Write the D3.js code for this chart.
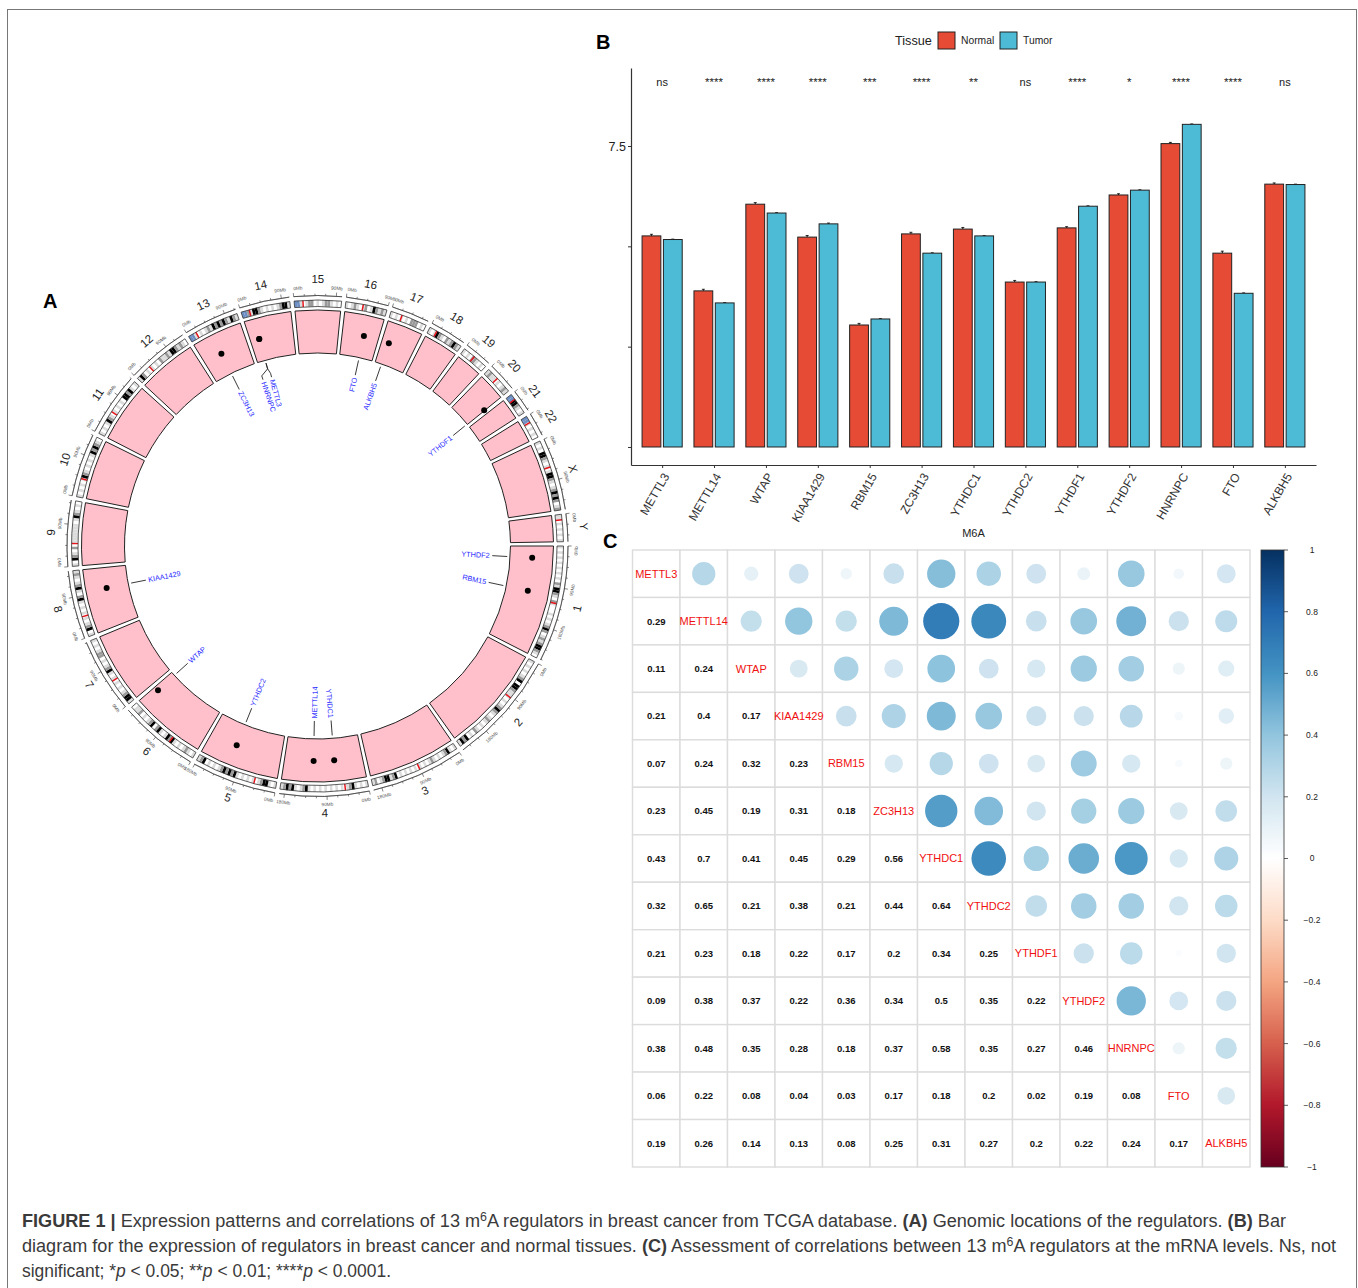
<!DOCTYPE html>
<html><head><meta charset="utf-8">
<script src="https://cdn.jsdelivr.net/npm/d3@7/dist/d3.min.js"></script>
<style>html,body{margin:0;padding:0;background:#fff}svg{display:block}text{font-family:"Liberation Sans",Arial,sans-serif}</style>
</head><body><svg id="fig" width="1358" height="1288"></svg>
<script>
// ---------- Panel A data (Mb) ----------
const chromNames = ["1","2","3","4","5","6","7","8","9","10","11","12","13","14","15","16","17","18","19","20","21","22","X","Y"];
const chromLengths = [249,243,198,191,181,171,159,146,141,135,135,133,115,107,102,90,81,78,59,63,48,51,155,59];
const centromeres = [125,93,91,50,48,61,60,45,49,40,54,36,18,18,19,38,25,17,27,27,13,15,60,12];
const chromBands = [
 "lwlwlwlwlwlwlwglkkglwglwwwlwlwlgkgwlglgkkglw","lwlwlwlgkwkkglllwlwlgkglwlglwlwlgwlwkgkl",
 "lwlkglwlwlglwlwlwlwlwlwlwkglkkglwgl","lwlwlkglwlwlwlwlwlwlwlkglwlkgkgl",
 "lwlkkglwlwlwlwlkgkgkglwlwlwkgl","lwlglwlwlkgklwlkgwkglwlwgllw",
 "lkkglwlwlwlwlkglwlwgglwlwl","lwkglwlwlwlwlkgwlkglwlgl",
 "lwkglwgwlllllllwlkglwlw","lwlwlwlkglwlwlwlkgkglw",
 "lwlwlkglwlwlwlwkkgklwl","lkgwlwlwlwgllglkkglglw",
 "bblwlwlglkgkgkglkgl","bbglkkglwlwlwlgkkl",
 "bblwlggwlwlgglwlw","lwlglwlgwlkglgl",
 "lwlwlwlwgggwlw","lwlkglwglgkgl",
 "lwlwgglwlw","lgllwlwlgl",
 "bbkkglwl","bblwlwlw",
 "lwlwkkglwlwlkkglwlgkgkgwlg","llwlwlwlwl"];
const bandColours = {w:"#ffffff",l:"#dcdcdc",g:"#9a9a9a",k:"#000000",b:"#6d8fc4"};
const geneNames = ["METTL3","METTL14","WTAP","KIAA1429","RBM15","ZC3H13","YTHDC1","YTHDC2","YTHDF1","YTHDF2","HNRNPC","FTO","ALKBH5"];
const geneChrom = ["14","4","6","8","1","13","4","5","20","1","14","16","17"];
const geneMb = [22,119.6,160.1,95.5,110.4,46.5,69.2,112.9,61.8,29.1,21.7,53.7,18.1];
const geneLabelShift = [0.5,0,0,0,0,0,0,0,0,0,-2.4,0,0];

// ---------- Panel B data ----------
const regulators = ["METTL3","METTL14","WTAP","KIAA1429","RBM15","ZC3H13","YTHDC1","YTHDC2","YTHDF1","YTHDF2","HNRNPC","FTO","ALKBH5"];
const normalMeans = [5.26,3.89,6.05,5.23,3.04,5.31,5.43,4.11,5.46,6.28,7.56,4.83,6.55];
const tumorMeans  = [5.17,3.59,5.83,5.56,3.19,4.83,5.26,4.11,6.00,6.40,8.04,3.83,6.54];
const normalErrs  = [0.04,0.04,0.04,0.04,0.04,0.04,0.04,0.04,0.03,0.03,0.03,0.05,0.03];
const tumorErrs   = [0.01,0.01,0.01,0.02,0.01,0.01,0.01,0.01,0.01,0.01,0.01,0.01,0.01];
const significance = ["ns","****","****","****","***","****","**","ns","****","*","****","****","ns"];
const yTickValues = [0,2.5,5,7.5];
const yTickLabels = ["","","","7.5"];
const tissues = ["Normal","Tumor"];
const tissueColours = ["#E64B35","#4DBBD5"];

// ---------- Panel C data ----------
const corrLower = [
 [],
 [.29],
 [.11,.24],
 [.21,.4,.17],
 [.07,.24,.32,.23],
 [.23,.45,.19,.31,.18],
 [.43,.7,.41,.45,.29,.56],
 [.32,.65,.21,.38,.21,.44,.64],
 [.21,.23,.18,.22,.17,.2,.34,.25],
 [.09,.38,.37,.22,.36,.34,.5,.35,.22],
 [.38,.48,.35,.28,.18,.37,.58,.35,.27,.46],
 [.06,.22,.08,.04,.03,.17,.18,.2,.02,.19,.08],
 [.19,.26,.14,.13,.08,.25,.31,.27,.2,.22,.24,.17]];
const rdbuStops = ["#67001F","#B2182B","#D6604D","#F4A582","#FDDBC7","#FFFFFF","#D1E5F0","#92C5DE","#4393C3","#2166AC","#053061"];
const barTicks = [1,.8,.6,.4,.2,0,-.2,-.4,-.6,-.8,-1];

const svg = d3.select("#fig");
svg.append("rect").attr("x",7.5).attr("y",9.5).attr("width",1349).attr("height",1300).attr("fill","none").attr("stroke","#777").attr("stroke-width",1);

function panelLetter(t,x,y){svg.append("text").attr("x",x).attr("y",y).attr("font-size",20).attr("font-weight","bold").attr("fill","#000").text(t);}
panelLetter("A",43,308);panelLetter("B",596,49);panelLetter("C",603,548);

// ========== Panel A ==========
const cx=317.5, cy=546;
const gA = svg.append("g").attr("transform",`translate(${cx},${cy})`);
const gapDeg=1, degPerMb=(360-gapDeg*chromLengths.length)/d3.sum(chromLengths);
const rad=d=>d*Math.PI/180;
const chromScales={};
let cursor=0;
chromNames.forEach((n,i)=>{
  chromScales[n]=d3.scaleLinear().domain([0,chromLengths[i]]).range([cursor,cursor+chromLengths[i]*degPerMb]);
  cursor+=chromLengths[i]*degPerMb+gapDeg;
});
const polar=(deg,r)=>[r*Math.cos(rad(deg)),r*Math.sin(rad(deg))];
const arcPath=(a0,a1,r0,r1)=>d3.arc()({innerRadius:r0,outerRadius:r1,startAngle:rad(a0+90),endAngle:rad(a1+90)});
const bendRotate=a=>{a=(a+360)%360;return a<=180?a-90:a-270;};
const rPinkIn=193,rPinkOut=236,rIdeoIn=239.5,rIdeoOut=246,rAxis=250.5,rTickLab=258.5,rChromLab=267;

chromNames.forEach((n,i)=>{
  const s=chromScales[n],len=chromLengths[i],a0=s(0),a1=s(len);
  gA.append("path").attr("d",arcPath(a0,a1,rPinkIn,rPinkOut)).attr("fill","#FFC0CB").attr("stroke","#222").attr("stroke-width",1);
  const str=chromBands[i],w=len/str.length;
  str.split("").forEach((c,j)=>{
    gA.append("path").attr("d",arcPath(s(j*w),s((j+1)*w),rIdeoIn,rIdeoOut)).attr("fill",bandColours[c]);
  });
  const cm=centromeres[i];
  gA.append("path").attr("d",arcPath(s(cm-1.6),s(cm+1.6),rIdeoIn,rIdeoOut)).attr("fill","#E8141C");
  gA.append("path").attr("d",arcPath(a0,a1,rIdeoIn,rIdeoOut)).attr("fill","none").attr("stroke","#333").attr("stroke-width",.8);
  // axis
  gA.append("path").attr("d",d3.arc()({innerRadius:rAxis,outerRadius:rAxis,startAngle:rad(a0+90),endAngle:rad(a1+90)})).attr("fill","none").attr("stroke","#333").attr("stroke-width",.6);
  d3.range(0,len+.01,22.5).forEach(mb=>{
    const major=mb%90===0,[x0,y0]=polar(s(mb),rAxis),[x1,y1]=polar(s(mb),rAxis+(major?3.6:1.8));
    gA.append("line").attr("x1",x0).attr("y1",y0).attr("x2",x1).attr("y2",y1).attr("stroke","#333").attr("stroke-width",.6);
    if(major){
      const la=s(mb)+(mb===0?1.1:0);
      const [tx,ty]=polar(la,rTickLab);
      gA.append("text").attr("transform",`translate(${tx},${ty}) rotate(${bendRotate(la)})`)
        .attr("text-anchor","middle").attr("dy","0.35em").attr("font-size",4.7).attr("fill","#555").text(mb+"Mb");
    }
  });
  const mid=s(len/2),[lx,ly]=polar(mid,rChromLab);
  gA.append("text").attr("transform",`translate(${lx},${ly}) rotate(${bendRotate(mid)})`)
    .attr("text-anchor","middle").attr("dy","0.35em").attr("font-size",11.5).attr("fill","#222").text(n);
});
const lineGen=d3.line();
geneNames.forEach((g,i)=>{
  const a=chromScales[geneChrom[i]](geneMb[i]),la=a+geneLabelShift[i];
  const [dx,dy]=polar(a,215);
  gA.append("circle").attr("cx",dx).attr("cy",dy).attr("r",3).attr("fill","#000");
  const pts=geneLabelShift[i]===0?[polar(a,190),polar(a,175)]:[polar(a,190),polar(a,184),polar(la,179),polar(la,175)];
  gA.append("path").attr("d",lineGen(pts)).attr("fill","none").attr("stroke","#222").attr("stroke-width",.9);
  const [tx,ty]=polar(la,172.5),norm=(la+360)%360,flip=norm>90&&norm<270;
  gA.append("text").attr("transform",`translate(${tx},${ty}) rotate(${flip?norm-180:norm})`)
    .attr("text-anchor",flip?"start":"end").attr("dy","0.35em").attr("font-size",7.3).attr("fill","#2a2aff").text(g);
});

// ========== Panel B ==========
const x=d3.scalePoint().domain(regulators).range([631,1316]).padding(.6);
const sub=d3.scaleBand().domain(tissues).range([-20.5,20.5]).paddingInner(.12).paddingOuter(.02);
const y=d3.scaleLinear().domain([-0.449,9.444]).range([465,68]);
const gB=svg.append("g");
const means={Normal:normalMeans,Tumor:tumorMeans},errs={Normal:normalErrs,Tumor:tumorErrs};
tissues.forEach((t,k)=>{
  regulators.forEach((r,i)=>{
    const bx=x(r)+sub(t),bw=sub.bandwidth(),v=means[t][i],e=errs[t][i];
    const c=bx+bw/2;
    gB.append("line").attr("x1",c).attr("x2",c).attr("y1",y(v+e)).attr("y2",y(v)).attr("stroke","#000");
    gB.append("line").attr("x1",c-1.5).attr("x2",c+1.5).attr("y1",y(v+e)).attr("y2",y(v+e)).attr("stroke","#000").attr("stroke-width",.8);
    gB.append("rect").attr("x",bx).attr("y",y(v)).attr("width",bw).attr("height",y(0)-y(v))
      .attr("fill",tissueColours[k]).attr("stroke","#222").attr("stroke-width",1);
  });
});
const yAxis=gB.append("g").attr("transform","translate(631,0)")
  .call(d3.axisLeft(y).tickValues(yTickValues).tickFormat((d,i)=>yTickLabels[i]).tickSize(3).tickSizeOuter(0).tickPadding(2));
yAxis.selectAll("text").attr("font-size",12.5).attr("fill","#222");
const xAxis=gB.append("g").attr("transform","translate(0,465)").call(d3.axisBottom(x).tickSize(3).tickSizeOuter(0));
xAxis.selectAll("text").attr("font-size",12).attr("fill","#333").attr("text-anchor","end")
  .attr("transform","translate(3.5,9) rotate(-60)").attr("dy","0.35em").attr("y",0).attr("x",0);
gB.selectAll(".domain").attr("stroke","#333").attr("stroke-width",1.2);
gB.selectAll(".tick line").attr("stroke","#333");
regulators.forEach((r,i)=>{
  const ns=significance[i].toLowerCase()==="ns";
  gB.append("text").attr("x",x(r)).attr("y",86).attr("text-anchor","middle").attr("font-size",ns?11:11.5).attr("fill","#222").text(significance[i]);
});
gB.append("text").attr("x",973.5).attr("y",537).attr("text-anchor","middle").attr("font-size",11).attr("fill","#222").text("M6A");
gB.append("text").attr("x",895).attr("y",45).attr("font-size",12.7).attr("fill","#222").text("Tissue");
const legendX=d3.scaleOrdinal().domain(tissues).range([938,1000]);
tissues.forEach((t,k)=>{
  gB.append("rect").attr("x",legendX(t)).attr("y",32).attr("width",17).attr("height",17).attr("fill",tissueColours[k]).attr("stroke","#222").attr("stroke-width",1);
  gB.append("text").attr("x",legendX(t)+23).attr("y",44).attr("font-size",10.3).attr("fill","#222").text(t);
});

// ========== Panel C ==========
const gC=svg.append("g");
const col=d3.scaleBand().domain(d3.range(13)).range([632.5,1250]);
const row=d3.scaleBand().domain(d3.range(13)).range([550,1167]);
const colour=d3.scaleLinear().domain(d3.range(-1,1.01,.2)).range(rdbuStops).clamp(true);
const radius=d3.scaleSqrt().domain([0,1]).range([0,21.6]);
const corr=(i,j)=>i===j?1:(i>j?corrLower[i][j]:corrLower[j][i]);
d3.range(13).forEach(i=>d3.range(13).forEach(j=>{
  const X=col(j),Y=row(i),b=col.bandwidth(),h=row.bandwidth();
  gC.append("rect").attr("x",X).attr("y",Y).attr("width",b).attr("height",h).attr("fill","#fff").attr("stroke","#dcdcdc").attr("stroke-width",1.4);
}));
d3.range(13).forEach(i=>d3.range(13).forEach(j=>{
  const X=col(j)+col.bandwidth()/2,Y=row(i)+row.bandwidth()/2,v=corr(i,j);
  if(i===j){
    gC.append("text").attr("x",X).attr("y",Y).attr("dy","0.35em").attr("text-anchor","middle").attr("font-size",11).attr("fill","#f01010").text(regulators[i]);
  }else if(i>j){
    gC.append("text").attr("x",X).attr("y",Y).attr("dy","0.35em").attr("text-anchor","middle").attr("font-size",9.5).attr("font-weight","bold").attr("fill","#111").text(v);
  }else{
    gC.append("circle").attr("cx",X).attr("cy",Y).attr("r",radius(v)).attr("fill",colour(v));
  }
}));
// colour bar
const barY=d3.scaleLinear().domain([1,-1]).range([550,1167]);
const defs=svg.append("defs"),grad=defs.append("linearGradient").attr("id","cb").attr("x1",0).attr("x2",0).attr("y1",1).attr("y2",0);
rdbuStops.forEach((c,i)=>grad.append("stop").attr("offset",i/(rdbuStops.length-1)).attr("stop-color",c));
gC.append("rect").attr("x",1261).attr("y",barY(1)).attr("width",23).attr("height",barY(-1)-barY(1)).attr("fill","url(#cb)").attr("stroke","#333").attr("stroke-width",.8);
barTicks.forEach(t=>{
  gC.append("line").attr("x1",1284).attr("x2",1288).attr("y1",barY(t)).attr("y2",barY(t)).attr("stroke","#333").attr("stroke-width",.8);
  gC.append("text").attr("x",1312).attr("y",barY(t)).attr("dy","0.35em").attr("text-anchor","middle").attr("font-size",8.5).attr("fill","#222").text(String(t).replace("-","\u2212"));
});

// ========== Caption ==========
const captionLines=[
 {y:1227,len:1264,runs:[["FIGURE 1 | ","b"],["Expression patterns and correlations of 13 m",""],["6","s"],["A regulators in breast cancer from TCGA database. ",""],["(A)","b"],[" Genomic locations of the regulators. ",""],["(B)","b"],[" Bar",""]]},
 {y:1252,len:1314,runs:[["diagram for the expression of regulators in breast cancer and normal tissues. ",""],["(C)","b"],[" Assessment of correlations between 13 m",""],["6","s"],["A regulators at the mRNA levels. Ns, not",""]]},
 {y:1277,len:369,runs:[["significant; *",""],["p","i"],[" < 0.05; **",""],["p","i"],[" < 0.01; ****",""],["p","i"],[" < 0.0001.",""]]}];
captionLines.forEach(l=>{
  const t=svg.append("text").attr("x",22).attr("y",l.y).attr("font-size",17.5).attr("fill","#3a3a3a").attr("textLength",l.len).attr("lengthAdjust","spacingAndGlyphs");
  l.runs.forEach(([s,k])=>{
    const ts=t.append("tspan").text(s);
    if(k==="b")ts.attr("font-weight","bold");
    if(k==="i")ts.attr("font-style","italic");
    if(k==="s")ts.attr("font-size",12).attr("baseline-shift","6");
  });
});
</script></body></html>
